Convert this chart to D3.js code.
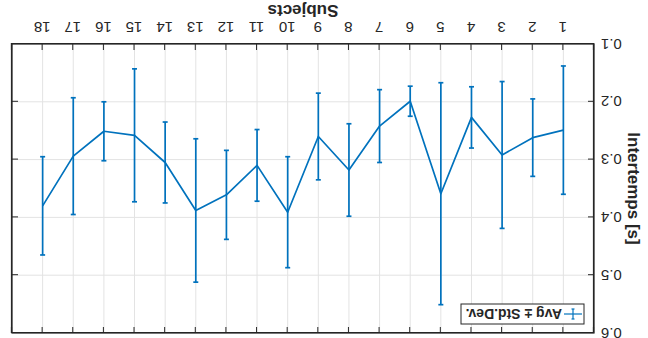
<!DOCTYPE html>
<html>
<head>
<meta charset="utf-8">
<script src="https://cdn.jsdelivr.net/npm/d3@7/dist/d3.min.js"></script>
<style>
  html, body { margin: 0; padding: 0; background: #fff; }
  svg { display: block; }
  text { font-family: "Liberation Sans", Arial, Helvetica, sans-serif; fill: #262626; }
</style>
</head>
<body>
<svg id="chart" width="648" height="338"></svg>
<script>
// Per-subject mean inter-time and standard deviation (seconds)
const subjects = d3.range(1, 19);
const avgValues = [0.249, 0.262, 0.292, 0.227, 0.359, 0.199, 0.242, 0.318, 0.260,
                   0.391, 0.310, 0.361, 0.388, 0.305, 0.258, 0.251, 0.294, 0.380];
const stdValues = [0.111, 0.067, 0.127, 0.053, 0.192, 0.026, 0.063, 0.080, 0.075,
                   0.096, 0.062, 0.077, 0.124, 0.070, 0.115, 0.051, 0.101, 0.085];
const yTicks = [0.1, 0.2, 0.3, 0.4, 0.5, 0.6];
const legendLabel = "Avg ± Std.Dev.";

const W = 648, H = 338;
const plot = { left: 54, right: 636, top: 5, bottom: 294 };
const blue = "#0072BD", ink = "#262626", gridColor = "#e3e3e3";

const svg = d3.select("#chart");
svg.append("rect").attr("width", W).attr("height", H).attr("fill", "#fff");

// The whole figure is drawn turned half a turn
const root = svg.append("g").attr("transform", `rotate(180, ${W / 2}, ${H / 2})`);

const x = d3.scaleLinear().domain([0, 19]).range([plot.left, plot.right]);
const y = d3.scaleLinear().domain([0.1, 0.6]).range([plot.bottom, plot.top]);

// Grid
const grid = root.append("g");
grid.selectAll("line.gx").data(subjects).join("line")
  .attr("x1", d => x(d)).attr("x2", d => x(d))
  .attr("y1", plot.top).attr("y2", plot.bottom)
  .attr("stroke", gridColor).attr("stroke-width", 1);
grid.selectAll("line.gy").data(yTicks).join("line")
  .attr("x1", plot.left).attr("x2", plot.right)
  .attr("y1", d => y(d)).attr("y2", d => y(d))
  .attr("stroke", gridColor).attr("stroke-width", 1);

// Axes (ticks pointing inward, box on all sides)
const tickLen = 6;
const xAxis = root.append("g").attr("transform", `translate(0,${plot.bottom})`)
  .call(d3.axisBottom(x).tickValues(subjects).tickSize(-tickLen).tickPadding(11).tickFormat(d3.format("d")));
const xAxisTop = root.append("g").attr("transform", `translate(0,${plot.top})`)
  .call(d3.axisTop(x).tickValues(subjects).tickSize(-tickLen).tickFormat(""));
const yAxis = root.append("g").attr("transform", `translate(${plot.left},0)`)
  .call(d3.axisLeft(y).tickValues(yTicks).tickSize(-tickLen).tickPadding(7).tickFormat(d3.format(".1f")));
const yAxisRight = root.append("g").attr("transform", `translate(${plot.right},0)`)
  .call(d3.axisRight(y).tickValues(yTicks).tickSize(-tickLen).tickFormat(""));

[xAxis, xAxisTop, yAxis, yAxisRight].forEach(g => {
  g.select(".domain").attr("stroke", ink).attr("stroke-width", 1.2);
  g.selectAll(".tick line").attr("stroke", ink).attr("stroke-width", 1);
  g.selectAll(".tick text").attr("fill", ink)
    .style("font-size", "15px").style("font-family", "Liberation Sans, Arial, sans-serif");
});
// Close the box cleanly at the corners
root.append("rect")
  .attr("x", plot.left).attr("y", plot.top)
  .attr("width", plot.right - plot.left).attr("height", plot.bottom - plot.top)
  .attr("fill", "none").attr("stroke", ink).attr("stroke-width", 1.2);

// Axis labels
root.append("text")
  .attr("x", (plot.left + plot.right) / 2).attr("y", 333)
  .attr("text-anchor", "middle")
  .style("font-size", "17px").style("font-weight", "bold")
  .text("Subjects");
root.append("text")
  .attr("transform", `translate(20,${(plot.top + plot.bottom) / 2}) rotate(-90)`)
  .attr("text-anchor", "middle")
  .style("font-size", "17px").style("font-weight", "bold")
  .text("Intertemps [s]");

// Error bars
const data = subjects.map((s, i) => ({ s, m: avgValues[i], sd: stdValues[i] }));
const capHalf = 2.5;
const bars = root.append("g").attr("stroke", blue).attr("stroke-width", 1.7).attr("fill", "none");
bars.selectAll("line.v").data(data).join("line")
  .attr("x1", d => x(d.s)).attr("x2", d => x(d.s))
  .attr("y1", d => y(d.m - d.sd)).attr("y2", d => y(d.m + d.sd));
bars.selectAll("line.cl").data(data).join("line")
  .attr("x1", d => x(d.s) - capHalf).attr("x2", d => x(d.s) + capHalf)
  .attr("y1", d => y(d.m - d.sd)).attr("y2", d => y(d.m - d.sd));
bars.selectAll("line.ch").data(data).join("line")
  .attr("x1", d => x(d.s) - capHalf).attr("x2", d => x(d.s) + capHalf)
  .attr("y1", d => y(d.m + d.sd)).attr("y2", d => y(d.m + d.sd));

// Mean line
root.append("path").datum(data)
  .attr("fill", "none").attr("stroke", blue).attr("stroke-width", 1.7)
  .attr("stroke-linejoin", "round")
  .attr("d", d3.line().x(d => x(d.s)).y(d => y(d.m)));

// Legend
const lg = root.append("g").attr("transform", "translate(64,14)");
lg.append("rect").attr("width", 123).attr("height", 20)
  .attr("fill", "#fff").attr("stroke", ink).attr("stroke-width", 1);
lg.append("line").attr("x1", 2).attr("x2", 20).attr("y1", 10).attr("y2", 10)
  .attr("stroke", blue).attr("stroke-width", 1.2);
lg.append("line").attr("x1", 11).attr("x2", 11).attr("y1", 5).attr("y2", 15)
  .attr("stroke", blue).attr("stroke-width", 1.2);
lg.append("line").attr("x1", 9.5).attr("x2", 12.5).attr("y1", 5).attr("y2", 5)
  .attr("stroke", blue).attr("stroke-width", 1.2);
lg.append("line").attr("x1", 9.5).attr("x2", 12.5).attr("y1", 15).attr("y2", 15)
  .attr("stroke", blue).attr("stroke-width", 1.2);
lg.append("text").attr("x", 22).attr("y", 15)
  .style("font-size", "14px").style("font-weight", "bold")
  .text(legendLabel);
</script>
</body>
</html>
